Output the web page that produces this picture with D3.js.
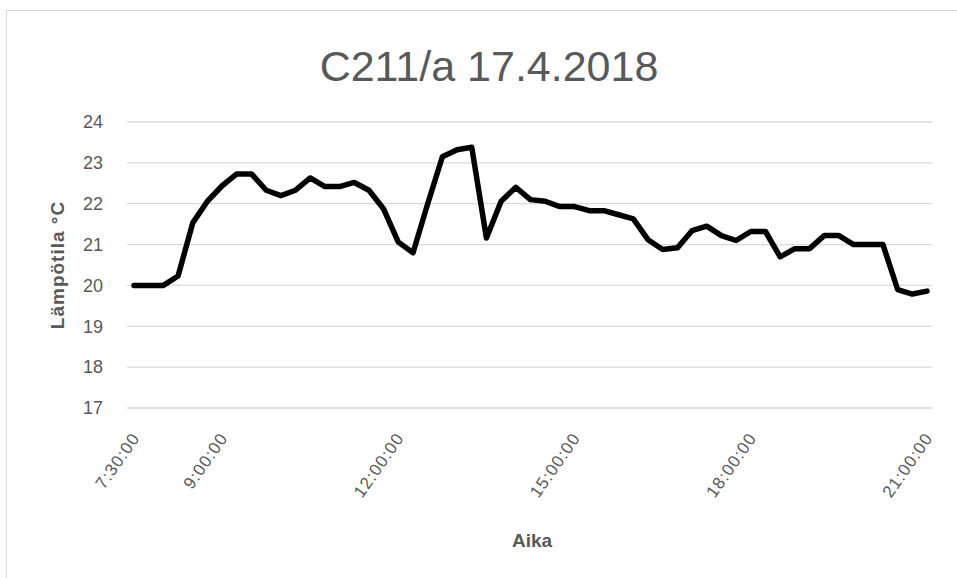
<!DOCTYPE html>
<html>
<head>
<meta charset="utf-8">
<script src="https://cdn.jsdelivr.net/npm/d3@7"></script>
<style>
body { margin: 0; background: #fff; }
svg text { font-family: "Liberation Sans", Arial, sans-serif; fill: #595959; }
</style>
</head>
<body>
<script>
// lämpötila 15 min välein, 7:30 - 21:00
var times = ["7:30","7:45","8:00","8:15","8:30","8:45","9:00","9:15","9:30","9:45",
	"10:00","10:15","10:30","10:45","11:00","11:15","11:30","11:45","12:00","12:15",
	"12:30","12:45","13:00","13:15","13:30","13:45","14:00","14:15","14:30","14:45",
	"15:00","15:15","15:30","15:45","16:00","16:15","16:30","16:45","17:00","17:15",
	"17:30","17:45","18:00","18:15","18:30","18:45","19:00","19:15","19:30","19:45",
	"20:00","20:15","20:30","20:45","21:00"];
var temps = [20.0,20.0,20.0,20.23,21.53,22.06,22.44,22.73,22.73,22.33,
	22.2,22.33,22.63,22.42,22.42,22.52,22.33,21.87,21.06,20.8,
	22.0,23.15,23.32,23.38,21.16,22.06,22.4,22.1,22.06,21.93,
	21.93,21.83,21.83,21.73,21.63,21.12,20.88,20.92,21.34,21.45,
	21.22,21.1,21.32,21.32,20.7,20.9,20.9,21.22,21.22,21.0,
	21.0,21.0,19.9,19.79,19.86];
var xTicks = ["7:30","9:00","12:00","15:00","18:00","21:00"];
var yTicks = [17,18,19,20,21,22,23,24];

var W = 957, H = 578;
var parse = d3.timeParse("%H:%M");
var data = times.map(function(t, i){ return {t: parse(t), v: temps[i]}; });

var svg = d3.select("body").append("svg").attr("width", W).attr("height", H);

svg.append("rect")
	.attr("x", 6.5).attr("y", 10.5)
	.attr("width", 1000).attr("height", 1000)
	.attr("fill", "#fff").attr("stroke", "#d9d9d9");

var x = d3.scaleTime()
	.domain([parse("7:30"), parse("21:00")])
	.range([134, 927]);
var y = d3.scaleLinear().domain([17, 24]).range([408, 122]);

// vaakaviivat
svg.selectAll(".grid")
	.data(yTicks)
	.enter().append("line")
	.attr("class", "grid")
	.attr("x1", 127).attr("x2", 932)
	.attr("y1", function(d){ return y(d); })
	.attr("y2", function(d){ return y(d); })
	.attr("stroke", "#d9d9d9").attr("stroke-width", 1.3);

var yAxis = svg.append("g")
	.attr("transform", "translate(127,0)")
	.call(d3.axisLeft(y).tickValues(yTicks).tickFormat(d3.format("d")).tickSize(0).tickPadding(24));
yAxis.select(".domain").remove();
yAxis.selectAll("text").style("font-size", "18px").style("fill", "#595959");

var xAxis = svg.append("g")
	.attr("transform", "translate(0,408)")
	.call(d3.axisBottom(x)
		.tickValues(xTicks.map(parse))
		.tickFormat(function(d){ return d3.timeFormat("%-H:%M:%S")(d); })
		.tickSize(0));
xAxis.select(".domain").remove();
xAxis.selectAll("text")
	.attr("text-anchor", "end")
	.attr("x", 0).attr("y", 0)
	.attr("dy", null)
	.attr("transform", "translate(6,30) rotate(-55)")
	.style("font-size", "17px").style("letter-spacing", "1px").style("fill", "#595959");

var line = d3.line()
	.x(function(d){ return x(d.t); })
	.y(function(d){ return y(d.v); });

svg.append("path")
	.datum(data)
	.attr("d", line)
	.attr("fill", "none")
	.attr("stroke", "#000")
	.attr("stroke-width", 5.5)
	.attr("stroke-linejoin", "round")
	.attr("stroke-linecap", "round");

svg.append("text")
	.attr("x", 489).attr("y", 81)
	.attr("text-anchor", "middle")
	.style("font-size", "43px")
	.text("C211/a 17.4.2018");

svg.append("text")
	.attr("transform", "translate(64,265) rotate(-90)")
	.attr("text-anchor", "middle")
	.style("font-size", "19px").style("font-weight", "bold")
	.style("letter-spacing", "1px")
	.text("Lämpötila °C");

svg.append("text")
	.attr("x", 532).attr("y", 547)
	.attr("text-anchor", "middle")
	.style("font-size", "19px").style("font-weight", "bold")
	.text("Aika");
</script>
</body>
</html>
